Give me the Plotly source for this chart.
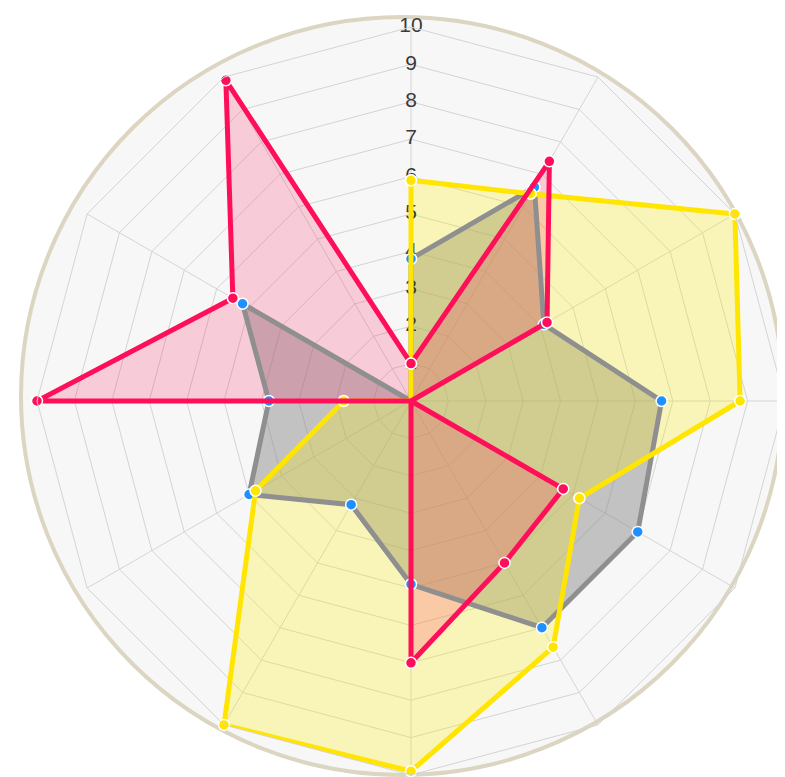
import plotly.graph_objects as go

# ---- data -------------------------------------------------------------
categories = ["A", "B", "C", "D", "E", "F", "G", "H", "I", "J", "K", "L"]

grey_values = [3.8, 6.6, 4.1, 6.7, 7.0, 7.0, 4.9, 3.2, 5.0, 3.8, 5.2, 0.0]
yellow_values = [5.9, 6.4, 10.0, 8.8, 5.2, 7.6, 9.9, 10.0, 4.8, 1.8, 0.0, 0.0]
red_values = [1.0, 7.4, 4.2, 0.0, 4.7, 5.0, 7.0, 0.0, 0.0, 10.0, 5.5, 9.9]

tick_values = [1, 2, 3, 4, 5, 6, 7, 8, 9, 10]
tick_labels = ["1", "2", "3", "4", "5", "6", "7", "8", "9", "10"]

# ---- figure -----------------------------------------------------------
W, H = 785, 777
OFF = 8  # page body margin in the browser


def closed(vals):
    return list(vals) + [vals[0]]


theta_closed = closed(categories)

series = [
    (grey_values, "#8f8f8f", "rgba(128,128,128,0.44)", "#1e90ff"),
    (yellow_values, "#ffe500", "rgba(255,240,0,0.25)", "#ffe500"),
    (red_values, "#ff0f5a", "rgba(255,15,90,0.19)", "#ff0f5a"),
]

fig = go.Figure()

# fills first
for vals, line_col, fill_col, marker_col in series:
    fig.add_trace(go.Scatterpolar(
        r=closed(vals),
        theta=theta_closed,
        mode="none",
        fill="toself",
        fillcolor=fill_col,
        hoverinfo="skip",
    ))

# radial tick labels, centred on the top spoke
fig.add_trace(go.Scatterpolar(
    r=tick_values,
    theta=[categories[0]] * len(tick_values),
    mode="text",
    text=tick_labels,
    textfont=dict(family="Liberation Sans, Arial, sans-serif", size=21, color="#3a3a3a"),
    textposition="middle center",
    cliponaxis=False,
    hoverinfo="skip",
))

# outlines and markers on top
for vals, line_col, fill_col, marker_col in series:
    fig.add_trace(go.Scatterpolar(
        r=closed(vals),
        theta=theta_closed,
        mode="lines+markers",
        line=dict(color=line_col, width=5),
        marker=dict(size=11, color=marker_col, line=dict(color="white", width=1.5)),
        cliponaxis=False,
    ))

grid_col = "#d4d4d4"

# outer beige ring with light grey interior
fig.add_shape(
    type="circle",
    xref="paper", yref="paper",
    x0=(21 - OFF) / W, x1=(783 - OFF) / W,
    y0=1 - (775 - OFF) / H, y1=1 - (17 - OFF) / H,
    line=dict(color="#dcd5c2", width=4),
    fillcolor="#f7f7f7",
    layer="below",
)

cx, cy, R = 411 - OFF, 401 - OFF, 374
fig.update_layout(
    width=W, height=H,
    margin=dict(l=0, r=0, t=0, b=0),
    paper_bgcolor="white",
    showlegend=False,
    polar=dict(
        domain=dict(x=[(cx - R) / W, (cx + R) / W], y=[1 - (cy + R) / H, 1 - (cy - R) / H]),
        bgcolor="rgba(0,0,0,0)",
        gridshape="linear",
        radialaxis=dict(
            range=[0, 10], dtick=1, showticklabels=False, ticks="",
            showline=False, gridcolor=grid_col, gridwidth=1,
        ),
        angularaxis=dict(
            direction="clockwise", rotation=90,
            showticklabels=False, ticks="",
            gridcolor=grid_col, linecolor=grid_col, linewidth=1,
        ),
    ),
)

fig.write_html("out.html")
